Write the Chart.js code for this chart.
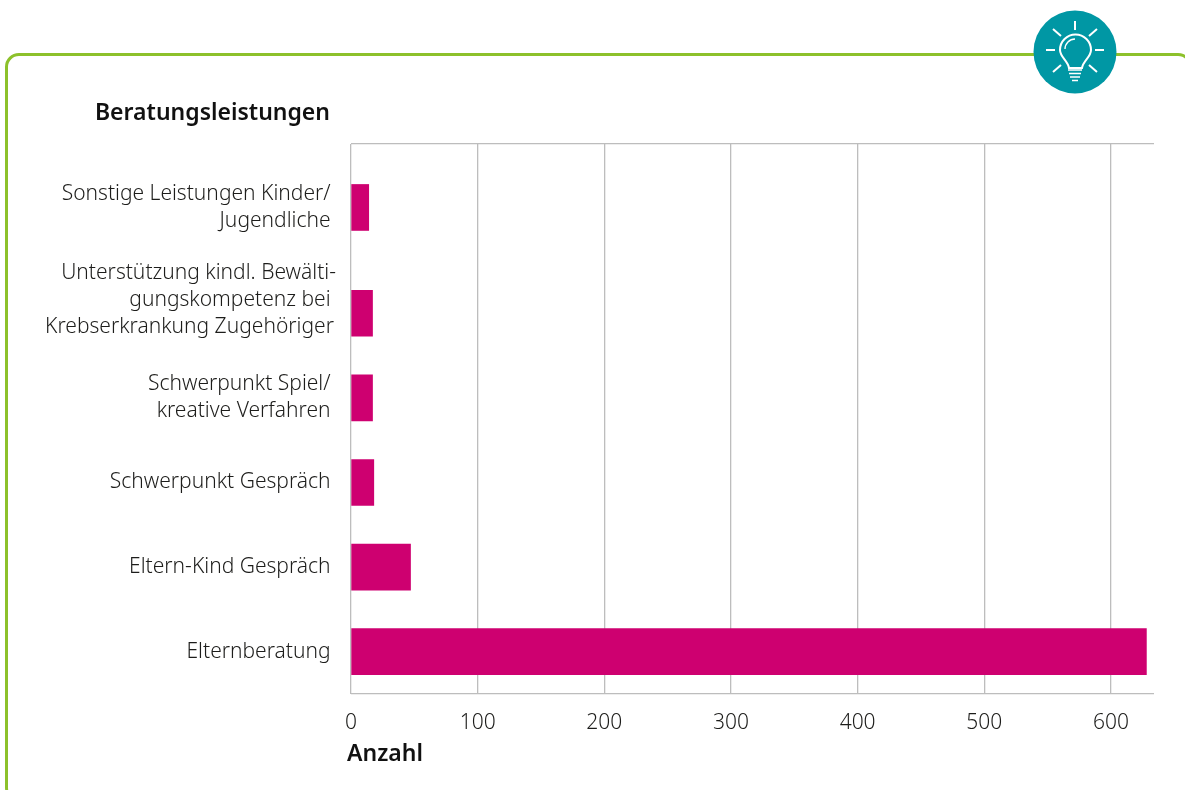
<!DOCTYPE html>
<html lang="de">
<head>
<meta charset="utf-8">
<title>Beratungsleistungen</title>
<script src="https://cdn.jsdelivr.net/npm/chart.js@4"></script>
<style>
  html, body { margin: 0; width: 1185px; height: 790px; overflow: hidden; background: #fff; }
  .frame { position: absolute; left: 5px; top: 53px; width: 1187px; height: 749px; box-sizing: border-box;
           border: 3px solid #8DC12B; border-radius: 14px; }
  #icon { position: absolute; left: 1033px; top: 10px; }
  #chart { position: absolute; left: 0; top: 0; }
</style>
</head>
<body>
<div class="frame"></div>
<svg id="icon" width="84" height="84" viewBox="0 0 84 84">
  <circle cx="42" cy="42" r="41.5" fill="#0097A4"/>
  <g fill="none" stroke="#fff" stroke-width="2">
    <path d="M42 11v9M20 19l8 7M64 19l-8 7M13 40h9M62 40h9M20 62l8-7M64 62l-8-7"/>
    <path d="M36 58c-1-7-9-11-9-18a15.500 15.500 0 0 1 31 0c0 7-8 11-9 18z"/>
    <path d="M32 39a10 10 0 0 1 10-10" stroke-width="1.4"/>
    <path d="M35 60h14M36 63.500h12M37 67h10M39 70.500h6" stroke-width="1.6"/>
  </g>
</svg>
<canvas id="chart" width="1185" height="790"></canvas>
<script>
// blank rows only space the bars out the way the picture does
const categories = [
  "", "", "",
  ["Sonstige Leistungen Kinder/ ", "Jugendliche "],
  "", "", "", "",
  ["Unterstützung kindl. Bewälti-", "gungskompetenz bei ", "Krebserkrankung Zugehöriger\u200A", ""],
  "", "", "",
  ["Schwerpunkt Spiel/ ", "kreative Verfahren "],
  "", "", "",
  "Schwerpunkt Gespräch ",
  "", "", "",
  "Eltern-Kind Gespräch ",
  "", "", "",
  "Elternberatung ",
  "", ""
];
const values = [
  null, null, null,
  14,
  null, null, null, null,
  17,
  null, null, null,
  17,
  null, null, null,
  18,
  null, null, null,
  47,
  null, null, null,
  628,
  null, null
];
const xTicks = [0, 100, 200, 300, 400, 500, 600];
const chartTitle = "Beratungsleistungen";
const xTitle = "Anzahl";

const FONT = "'Noto Sans', sans-serif";
const INK = "#1d1d1b";
const GRID = "#BDBDBD";

// heading and axis label hang off the chart area
const headings = {
  id: "headings",
  afterDraw(c) {
    const { ctx, chartArea: a } = c;
    ctx.save();
    ctx.fillStyle = "#111";
    ctx.font = "600 23px " + FONT;
    ctx.textBaseline = "alphabetic";
    ctx.textAlign = "right";
    ctx.fillText(chartTitle, a.left - 21, a.top - 24);
    ctx.textAlign = "left";
    ctx.fillText(xTitle, a.left - 4, a.bottom + 67);
    ctx.restore();
  },
};

new Chart(document.getElementById("chart"), {
  type: "bar",
  data: {
    labels: categories,
    datasets: [{ label: xTitle, data: values, backgroundColor: "#CE0070", barThickness: 46 }],
  },
  plugins: [headings],
  options: {
    indexAxis: "y",
    responsive: false,
    animation: false,
    layout: { autoPadding: false, padding: { top: 144, right: 31, left: 0, bottom: 0 } },
    plugins: { legend: { display: false }, title: { display: false }, tooltip: { enabled: false } },
    scales: {
      x: {
        min: 0,
        max: 634,
        afterBuildTicks: s => { s.ticks = xTicks.map(v => ({ value: v })); },
        afterFit: s => { s.height = 96; },
        grid: { color: GRID, lineWidth: 1.3, drawTicks: false },
        border: { display: false },
        ticks: { color: INK, padding: 16, font: { family: FONT, size: 21, weight: "300" }, maxRotation: 0 },
      },
      y: {
        offset: false,
        afterFit: s => { s.width = 351; },
        // only the top and bottom rule of the plot, not one per row
        grid: {
          offset: false,
          drawTicks: false,
          lineWidth: 1.3,
          color: c => (c.index === 0 || c.index === categories.length - 1 ? GRID : "transparent"),
        },
        border: { display: false },
        ticks: {
          autoSkip: false,
          color: INK,
          padding: 15,
          font: { family: FONT, size: 21, weight: "300", lineHeight: 1.29 },
        },
      },
    },
  },
});
</script>
</body>
</html>
